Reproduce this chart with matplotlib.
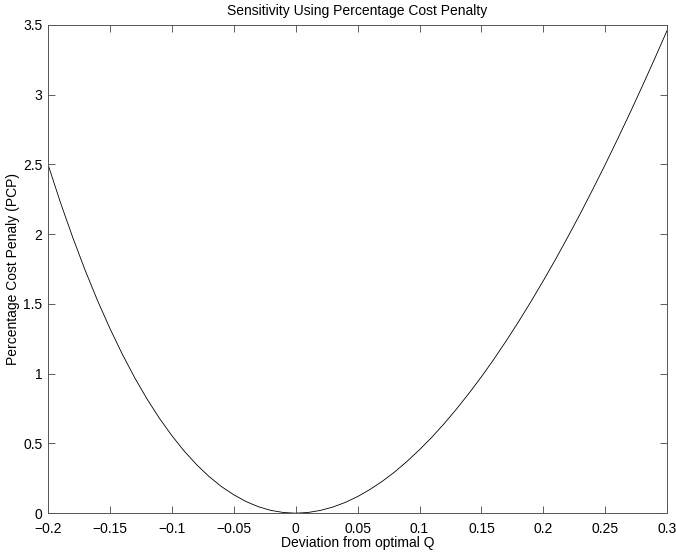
import matplotlib
matplotlib.use('Agg')
import matplotlib.pyplot as plt

# deviation from optimal Q and percentage cost penalty
desviacio = [-0.20, -0.19, -0.18, -0.17, -0.16, -0.15, -0.14, -0.13, -0.12, -0.11,
             -0.10, -0.09, -0.08, -0.07, -0.06, -0.05, -0.04, -0.03, -0.02, -0.01,
             0.00, 0.01, 0.02, 0.03, 0.04, 0.05, 0.06, 0.07, 0.08, 0.09,
             0.10, 0.11, 0.12, 0.13, 0.14, 0.15, 0.16, 0.17, 0.18, 0.19,
             0.20, 0.21, 0.22, 0.23, 0.24, 0.25, 0.26, 0.27, 0.28, 0.29, 0.30]
pcp = [2.500, 2.228, 1.976, 1.741, 1.524, 1.324, 1.140, 0.971, 0.818, 0.680,
       0.556, 0.445, 0.348, 0.263, 0.191, 0.132, 0.083, 0.046, 0.020, 0.005,
       0.000, 0.005, 0.020, 0.044, 0.077, 0.119, 0.170, 0.229, 0.296, 0.372,
       0.455, 0.545, 0.643, 0.748, 0.860, 0.978, 1.103, 1.235, 1.373, 1.517,
       1.667, 1.822, 1.984, 2.150, 2.323, 2.500, 2.683, 2.870, 3.063, 3.260, 3.462]

xticks = [-0.2, -0.15, -0.1, -0.05, 0, 0.05, 0.1, 0.15, 0.2, 0.25, 0.3]
xtick_labels = ['\u22120.2', '\u22120.15', '\u22120.1', '\u22120.05', '0', '0.05',
                '0.1', '0.15', '0.2', '0.25', '0.3']
yticks = [0, 0.5, 1, 1.5, 2, 2.5, 3, 3.5]
ytick_labels = ['0', '0.5', '1', '1.5', '2', '2.5', '3', '3.5']

plt.rcParams['font.family'] = ['Liberation Sans', 'DejaVu Sans']

fig = plt.figure(figsize=(6.76, 5.53), dpi=100)
ax = fig.add_axes([0.071, 0.072, 0.916, 0.883])

ax.plot(desviacio, pcp, color='black', linewidth=0.6)

ax.set_xlim(-0.2, 0.3)
ax.set_ylim(0, 3.5)
ax.set_xticks(xticks)
ax.set_xticklabels(xtick_labels)
ax.set_yticks(yticks)
ax.set_yticklabels(ytick_labels)

# ticks cap dins com al MATLAB, a tots els costats
ax.tick_params(direction='in', length=5, width=0.6, colors='#444444',
               labelcolor='black', labelsize=10, top=True, right=True)
ax.tick_params(axis='x', pad=6)
ax.tick_params(axis='y', pad=4)
for s in ax.spines.values():
    s.set_color('#555555')
    s.set_linewidth(0.7)

ax.set_title('Sensitivity Using Percentage Cost Penalty', fontsize=10, pad=7)
ax.set_xlabel('Deviation from optimal Q', fontsize=10, labelpad=0)
ax.set_ylabel('Percentage Cost Penaly (PCP)', fontsize=10, labelpad=2)

fig.savefig('out.png', dpi=100)
